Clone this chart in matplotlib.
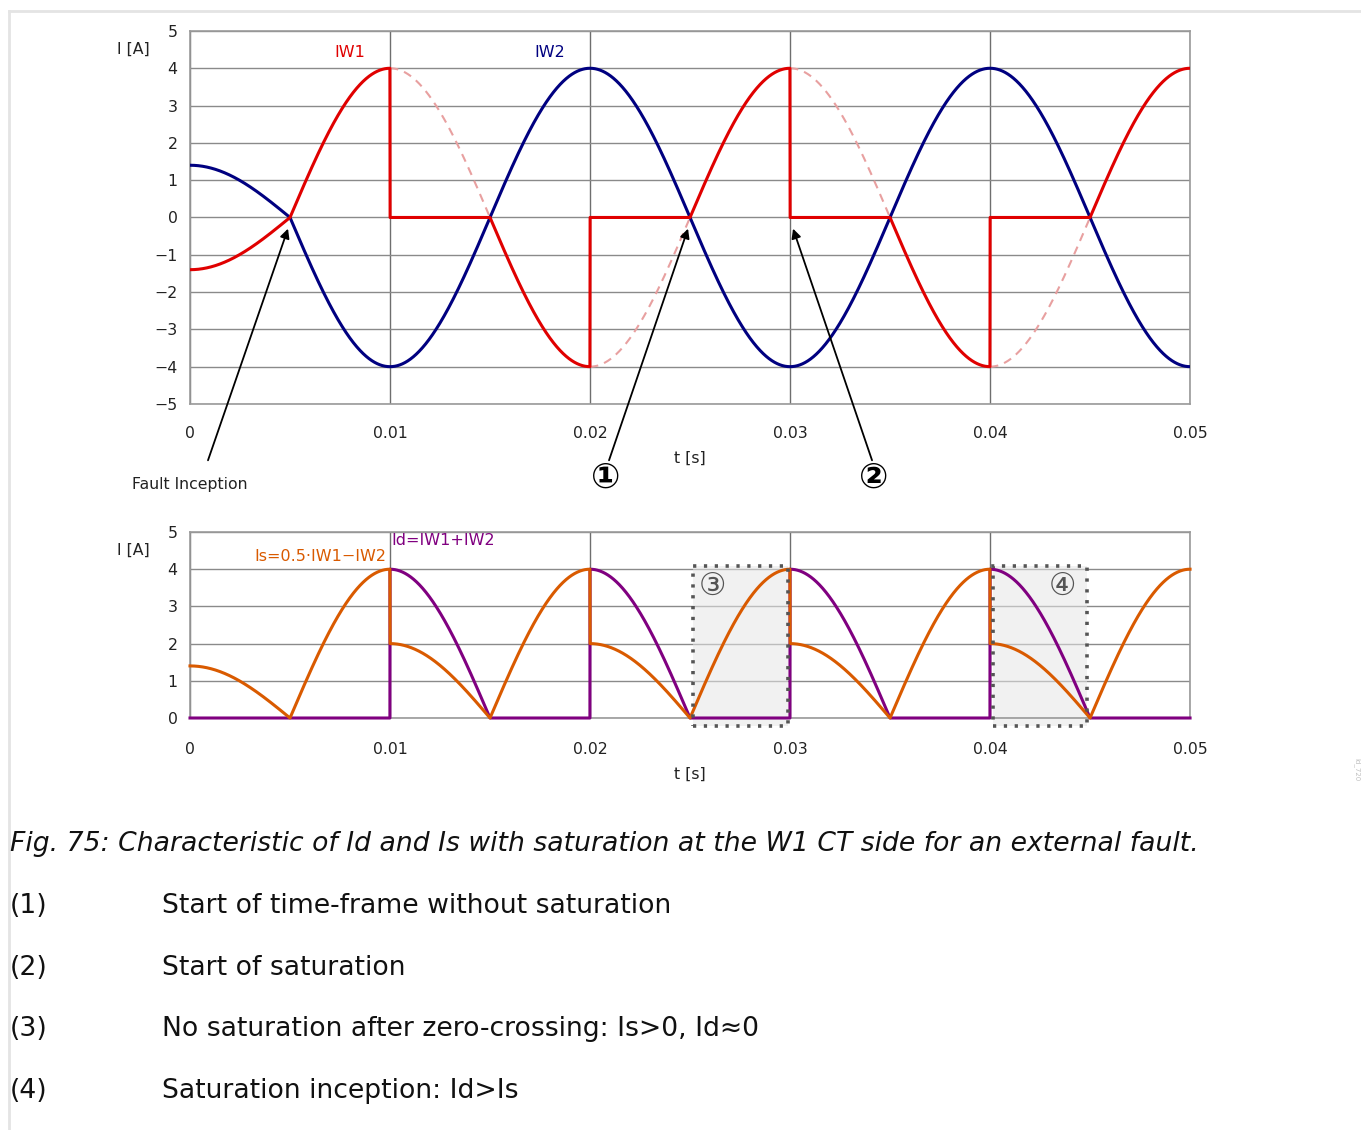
import numpy as np
import matplotlib.pyplot as plt
from matplotlib.patches import Rectangle
from matplotlib.lines import Line2D

# values
f_hz = 50
amp_prefault = 1.4
amp_fault = 4.0
t_fault = 0.005
sat_start = [0.010, 0.020, 0.030, 0.040]
sat_end = [0.015, 0.025, 0.035, 0.045]
t_end = 0.05
xticks = [0, 0.01, 0.02, 0.03, 0.04, 0.05]
xtick_labels = ['0', '0.01', '0.02', '0.03', '0.04', '0.05']
yticks_top = list(range(-5, 6))
yticks_bot = list(range(0, 6))
box_3 = (0.02515, 0.0299)
box_4 = (0.04015, 0.04485)
box_y = (-0.215, 4.09)
notes = ['Start of time-frame without saturation',
         'Start of saturation',
         'No saturation after zero-crossing: Is>0, Id\u22480',
         'Saturation inception: Id>Is']

t = np.linspace(0, t_end, 10001)
w = 2 * np.pi * f_hz
amp = np.where(t < t_fault, amp_prefault, amp_fault)
iw2 = amp * np.cos(w * t)
iw1_ideal = -iw2
sat = np.zeros_like(t, dtype=bool)
for a, b in zip(sat_start, sat_end):
    sat |= (t >= a) & (t < b)
iw1 = np.where(sat, 0.0, iw1_ideal)
ideal_only = np.where(sat, iw1_ideal, np.nan)
i_d = np.abs(iw1 + iw2)
i_s = 0.5 * (np.abs(iw1) + np.abs(iw2))

RED = '#e00000'
NAVY = '#000080'
ORANGE = '#d95a00'
PURPLE = '#800080'
lw = 2.2

fig = plt.figure(figsize=(13.61, 11.30), dpi=100)
ax1 = fig.add_axes([0.1396, 0.6425, 0.7348, 0.3301])
ax2 = fig.add_axes([0.1396, 0.3646, 0.7348, 0.1646])


def style(ax, yticks, pad_x):
    ax.set_xlim(0, t_end)
    ax.set_ylim(yticks[0], yticks[-1])
    ax.set_xticks(xticks)
    ax.set_xticklabels(xtick_labels)
    ax.set_yticks(yticks)
    ax.set_yticklabels([str(v).replace('-', '\u2212') for v in yticks])
    ax.tick_params(axis='x', length=0, pad=pad_x, labelsize=11.3, colors='#222222')
    ax.tick_params(axis='y', length=0, pad=9, labelsize=11.3, colors='#222222')
    ax.yaxis.grid(True, color='#8a8a8a', lw=1.0)
    ax.xaxis.grid(True, color='#6e6e6e', lw=1.0)
    ax.set_axisbelow(True)
    for s in ax.spines.values():
        s.set_color('#9a9a9a')
        s.set_linewidth(1.2)


style(ax1, yticks_top, 16)
style(ax2, yticks_bot, 17)

# top panel
ax1.plot(t, ideal_only, color='#e8a0a0', lw=1.5, ls=(0, (4, 3)), zorder=2)
ax1.plot(t, iw2, color=NAVY, lw=lw, zorder=3)
ax1.plot(t, iw1, color=RED, lw=lw, zorder=4)
ax1.text(0.008, 4.42, 'IW1', color=RED, fontsize=11.5, ha='center', va='center')
ax1.text(0.018, 4.42, 'IW2', color=NAVY, fontsize=11.5, ha='center', va='center')

arrow = dict(arrowstyle='-|>', color='black', lw=1.3, mutation_scale=14, shrinkA=0, shrinkB=0)
ax1.annotate('', xy=(0.0049, -0.3), xytext=(0.0009, -6.51), arrowprops=arrow, annotation_clip=False)
ax1.annotate('', xy=(0.0249, -0.3), xytext=(0.02095, -6.51), arrowprops=arrow, annotation_clip=False)
ax1.annotate('', xy=(0.03015, -0.3), xytext=(0.0341, -6.51), arrowprops=arrow, annotation_clip=False)
ax1.text(0.0208, -6.97, '\u2460', fontsize=25, ha='center', va='center', fontweight='bold', clip_on=False)
ax1.text(0.0342, -6.97, '\u2461', fontsize=25, ha='center', va='center', fontweight='bold', clip_on=False)

# bottom panel
for (x0, x1) in (box_3, box_4):
    ax2.add_patch(Rectangle((x0, box_y[0]), x1 - x0, box_y[1] - box_y[0],
                            facecolor='#e6e6e6', alpha=0.55, edgecolor='none',
                            zorder=1.5, clip_on=False))
    ax2.add_patch(Rectangle((x0, box_y[0]), x1 - x0, box_y[1] - box_y[0],
                            facecolor='none', edgecolor='#555555', lw=2.6,
                            ls=(0, (0.9, 2.1)), zorder=5, clip_on=False))
ax2.plot(t, i_d, color=PURPLE, lw=lw, zorder=3, clip_on=False)
ax2.plot(t, i_s, color=ORANGE, lw=lw, zorder=4, clip_on=False)
ax2.text(0.0261, 3.55, '\u2462', fontsize=22, color='#555555', ha='center', va='center')
ax2.text(0.0436, 3.55, '\u2463', fontsize=22, color='#555555', ha='center', va='center')
ax2.text(0.01005, 4.78, 'Id=IW1+IW2', color=PURPLE, fontsize=11.5, ha='left', va='center')
ax2.text(0.0098, 4.35, 'Is=0.5\u00b7IW1\u2212IW2', color=ORANGE, fontsize=11.5, ha='right', va='center')

# axis labels and annotations in figure pixels
H = 1130.0
W = 1361.0
def fx(x):
    return x / W
def fy(y):
    return 1 - y / H

fig.text(fx(133), fy(49), 'I [A]', fontsize=11.3, ha='center', va='center', color='#222222')
fig.text(fx(133), fy(550), 'I [A]', fontsize=11.3, ha='center', va='center', color='#222222')
fig.text(fx(690), fy(458), 't [s]', fontsize=11.3, ha='center', va='center', color='#222222')
fig.text(fx(690), fy(774), 't [s]', fontsize=11.3, ha='center', va='center', color='#222222')
fig.text(fx(190), fy(485), 'Fault Inception', fontsize=11.3, ha='center', va='center', color='#222222')
fig.text(fx(1357), fy(770), 'Id_720', fontsize=5, rotation=270, ha='center', va='center', color='#c0c0c0')

# caption and notes
fig.text(fx(10), fy(844), 'Fig. 75: Characteristic of Id and Is with saturation at the W1 CT side for an external fault.',
         fontsize=19.2, style='italic', ha='left', va='center', color='#111111')
for k, (y, note) in enumerate(zip([906, 968, 1029, 1091], notes)):
    fig.text(fx(10), fy(y), '(%d)' % (k + 1), fontsize=19.2, ha='left', va='center', color='#111111')
    fig.text(fx(162), fy(y), note, fontsize=19.2, ha='left', va='center', color='#111111')

# light frame
fig.add_artist(Line2D([fx(9), 1], [fy(11), fy(11)], color='#e4e4e4', lw=2))
fig.add_artist(Line2D([fx(9), fx(9)], [fy(11), 0], color='#e4e4e4', lw=2))

fig.savefig('out.png', dpi=100)
